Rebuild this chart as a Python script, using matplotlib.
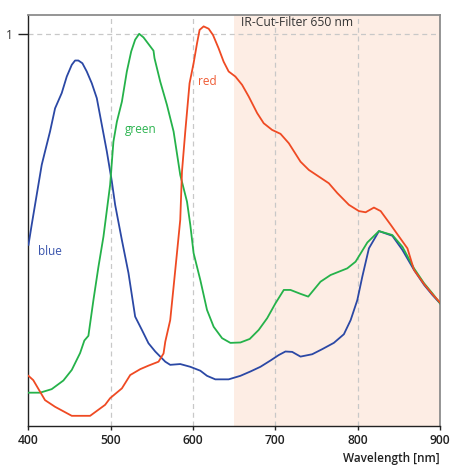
import matplotlib
matplotlib.use("Agg")
import matplotlib.pyplot as plt

blue_x = [400, 403.9, 416.1, 420.1, 426.2, 432.3, 440.4, 446.5, 452.6, 456.6, 460.6, 465.5, 470.8, 476.9,
          483.0, 489.1, 495.2, 501.3, 505.3, 513.5, 521.5, 529.6, 537.8, 545.8, 554.0, 560.1, 566.2, 572.2,
          584.4, 596.6, 608.8, 616.9, 627.0, 643.2, 657.5, 669.6, 681.8, 694.0, 704.1, 712.2, 720.4, 730.5,
          744.7, 756.9, 771.0, 783.2, 791.4, 799.5, 805.6, 813.6, 825.8, 842.1, 854.3, 868.4, 880.6, 890.8, 900]
blue_y = [0.462, 0.513, 0.666, 0.700, 0.751, 0.810, 0.849, 0.891, 0.921, 0.932, 0.932, 0.925, 0.904, 0.874,
          0.836, 0.768, 0.700, 0.623, 0.564, 0.474, 0.390, 0.279, 0.245, 0.211, 0.190, 0.177, 0.164, 0.156,
          0.158, 0.151, 0.141, 0.128, 0.119, 0.119, 0.128, 0.139, 0.151, 0.167, 0.181, 0.190, 0.189, 0.177,
          0.183, 0.196, 0.212, 0.234, 0.270, 0.321, 0.381, 0.453, 0.497, 0.485, 0.449, 0.398, 0.360, 0.334, 0.313]

green_x = [400, 414.0, 428.2, 442.4, 452.6, 462.7, 467.9, 472.8, 478.9, 485.0, 491.1, 499.2, 503.2, 507.4,
           513.5, 519.5, 524.8, 529.6, 534.5, 539.7, 545.8, 551.9, 553.1, 560.1, 568.2, 576.3, 584.4, 592.6,
           596.6, 600.6, 608.8, 616.9, 625.0, 635.2, 645.3, 657.5, 668.8, 679.7, 690.0, 700.1, 710.2, 718.3,
           730.5, 739.9, 754.8, 767.0, 787.3, 797.4, 811.7, 825.8, 842.1, 854.3, 868.4, 880.6, 890.8, 900]
green_y = [0.085, 0.085, 0.094, 0.116, 0.143, 0.186, 0.218, 0.230, 0.321, 0.406, 0.483, 0.615, 0.725, 0.776,
           0.827, 0.904, 0.955, 0.985, 1.000, 0.991, 0.974, 0.957, 0.938, 0.878, 0.819, 0.751, 0.640, 0.572,
           0.513, 0.441, 0.372, 0.296, 0.253, 0.224, 0.212, 0.213, 0.222, 0.245, 0.275, 0.313, 0.347, 0.347,
           0.337, 0.330, 0.368, 0.385, 0.402, 0.419, 0.468, 0.497, 0.487, 0.457, 0.402, 0.364, 0.338, 0.313]

red_x = [400, 405.8, 420.1, 432.3, 452.6, 474.9, 493.1, 499.2, 513.5, 523.6, 535.8, 545.8, 558.0, 564.1,
         566.2, 572.2, 576.3, 580.4, 584.4, 586.5, 590.5, 595.7, 600.6, 604.8, 607.9, 612.8, 618.9, 624.2,
         631.0, 637.1, 643.2, 651.4, 659.5, 667.6, 677.8, 685.8, 696.0, 706.2, 716.3, 730.5, 740.6, 764.9,
         775.2, 789.3, 801.5, 809.6, 819.7, 827.9, 840.1, 850.2, 860.4, 868.4, 880.6, 890.8, 900]
red_y = [0.128, 0.117, 0.066, 0.049, 0.026, 0.026, 0.054, 0.071, 0.096, 0.130, 0.145, 0.154, 0.164, 0.185,
         0.215, 0.270, 0.355, 0.441, 0.526, 0.649, 0.751, 0.874, 0.925, 0.976, 1.010, 1.019, 1.013, 0.997,
         0.963, 0.929, 0.904, 0.891, 0.870, 0.840, 0.798, 0.772, 0.755, 0.745, 0.721, 0.674, 0.653, 0.619,
         0.594, 0.564, 0.548, 0.545, 0.557, 0.548, 0.513, 0.483, 0.453, 0.398, 0.362, 0.336, 0.315]

x_ticks = [400, 500, 600, 700, 800, 900]
filter_start = 650

BLUE = "#2b48a5"
GREEN = "#25b24a"
RED = "#ef4a23"

plt.rcParams['font.family'] = ['Open Sans', 'DejaVu Sans']

fig = plt.figure(figsize=(4.52, 4.66), dpi=100)
ax = fig.add_axes([0.063, 0.0858, 0.9105, 0.882])

ax.axvspan(filter_start, 900, color="#fdede4", zorder=0, lw=0)
for xv in [500, 600, 700, 800]:
    ax.axvline(xv, color="#c8c8c8", ls=(0, (4, 3)), lw=0.9, zorder=1)
ax.axhline(1, color="#c8c8c8", ls=(0, (4, 3)), lw=0.9, zorder=1)

ax.plot(blue_x, blue_y, color=BLUE, lw=1.3, zorder=3)
ax.plot(green_x, green_y, color=GREEN, lw=1.3, zorder=3)
ax.plot(red_x, red_y, color=RED, lw=1.3, zorder=3)

ax.set_xlim(400, 900)
ax.set_ylim(0, 1.048)
ax.set_xticks(x_ticks)
ax.set_xticklabels([str(t) for t in x_ticks], fontsize=8.7, fontweight='semibold', color="#222222")
ax.set_yticks([1])
ax.set_yticklabels(["1"], fontsize=8.5, color="#333333")
ax.tick_params(axis='x', direction='out', length=3, width=1, color="#222222", pad=3)
ax.tick_params(axis='y', direction='out', length=7, width=1, color="#222222", pad=4)

for s in ['left', 'bottom']:
    ax.spines[s].set_color("#222222")
    ax.spines[s].set_linewidth(1.0)
for s in ['top', 'right']:
    ax.spines[s].set_color("#8c8c8c")
    ax.spines[s].set_linewidth(1.3)

ax.text(412, 0.444, "blue", color="#3a55ad", fontsize=8.5, va='center', ha='left')
ax.text(517, 0.755, "green", color="#2cb450", fontsize=8.5, va='center', ha='left')
ax.text(606, 0.878, "red", color="#ef5a33", fontsize=8.5, va='center', ha='left')
ax.text(658, 1.029, "IR-Cut-Filter 650 nm", color="#333333", fontsize=8.7, va='center', ha='left')

fig.text(0.9735, 0.003, "Wavelength [nm]", ha='right', va='bottom', fontsize=8.5,
         fontweight='semibold', color="#222222")

fig.savefig("out.png", dpi=100)
